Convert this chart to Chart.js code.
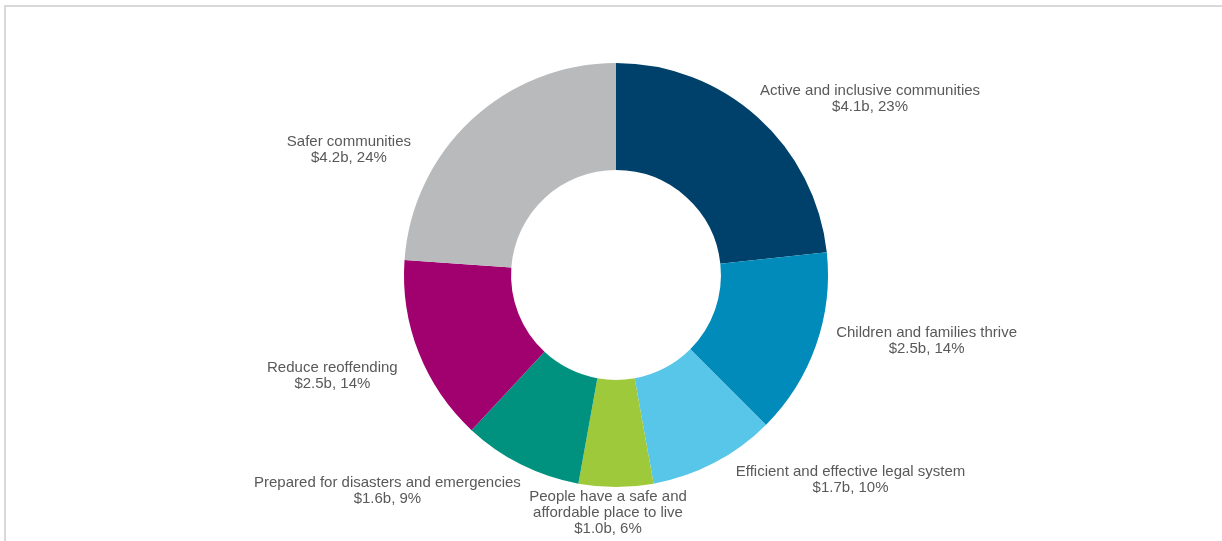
<!DOCTYPE html>
<html>
<head>
<meta charset="utf-8">
<script src="https://cdn.jsdelivr.net/npm/chart.js@4/dist/chart.umd.min.js"></script>
<style>
  html, body { margin: 0; padding: 0; background: #fff; }
  #wrap { position: relative; width: 1222px; height: 541px; overflow: hidden; }
  #frame {
    position: absolute; left: 4px; top: 5px; right: -10px; bottom: -10px;
    border-top: 2px solid #d9d9d9; border-left: 2px solid #d9d9d9;
  }
  #myChart { position: absolute; left: 0; top: 0; }
</style>
</head>
<body>
<div id="wrap">
  <div id="frame"></div>
  <canvas id="myChart" width="1222" height="541"></canvas>
</div>
<script>
"use strict";

// spending by outcome, $ billions
const categories = [
  'Active and inclusive communities',
  'Children and families thrive',
  'Efficient and effective legal system',
  ['People have a safe and', 'affordable place to live'],
  'Prepared for disasters and emergencies',
  'Reduce reoffending',
  'Safer communities'
];
const spend = [4.1, 2.5, 1.7, 1.0, 1.6, 2.5, 4.2];
const colours = ['#00416b', '#008bbb', '#57c6e9', '#9dc93b', '#00927f', '#a1006f', '#b8babc'];

// small per-label shifts [dx, dy] from the computed spot outside each slice
const labelShift = [[-7, 4], [7, -15], [15, -10], [-8, -12], [6, -1], [-8, 12], [-51, 52]];

const total = spend.reduce((a, b) => a + b, 0);

const outsideLabels = {
  id: 'outsideLabels',
  afterDatasetsDraw(chart) {
    const ctx = chart.ctx;
    const meta = chart.getDatasetMeta(0);
    const lineH = 16;
    const gap = 14;
    ctx.save();
    ctx.font = '15px "Liberation Sans", Arial, sans-serif';
    ctx.fillStyle = '#595959';
    ctx.textAlign = 'center';
    ctx.textBaseline = 'middle';
    meta.data.forEach(function(arc, i) {
      let name = categories[i];
      let lines = Array.isArray(name) ? name.slice() : [name];
      let pct = Math.round(spend[i] / total * 100);
      lines.push('$' + spend[i].toFixed(1) + 'b, ' + pct + '%');

      let mid = (arc.startAngle + arc.endAngle) / 2;
      let r = arc.outerRadius + gap;
      let ax = arc.x + Math.cos(mid) * r;
      let ay = arc.y + Math.sin(mid) * r;
      let w = Math.max.apply(null, lines.map(l => ctx.measureText(l).width));
      let h = lines.length * lineH;
      let side = Math.cos(mid) > 0.05 ? 1 : (Math.cos(mid) < -0.05 ? -1 : 0);
      let cx = ax + side * w / 2 + labelShift[i][0];
      let cy = ay + Math.sin(mid) * h / 2 + labelShift[i][1];
      let y0 = cy - h / 2 + lineH / 2;
      lines.forEach(function(l, k) {
        ctx.fillText(l, cx, y0 + k * lineH);
      });
    });
    ctx.restore();
  }
};

function createChart() {
  let myChart = document.getElementById("myChart").getContext("2d");
  return new Chart(myChart, {
    type: 'doughnut',
    data: {
      labels: categories,
      datasets: [{
        data: spend,
        backgroundColor: colours,
        borderWidth: 0
      }]
    },
    options: {
      responsive: false,
      animation: false,
      cutout: '49.5%',
      layout: {
        padding: { left: 404, right: 394, top: 63, bottom: 54 }
      },
      plugins: {
        legend: { display: false },
        tooltip: { enabled: false }
      }
    },
    plugins: [outsideLabels]
  });
}

createChart();
</script>
</body>
</html>
